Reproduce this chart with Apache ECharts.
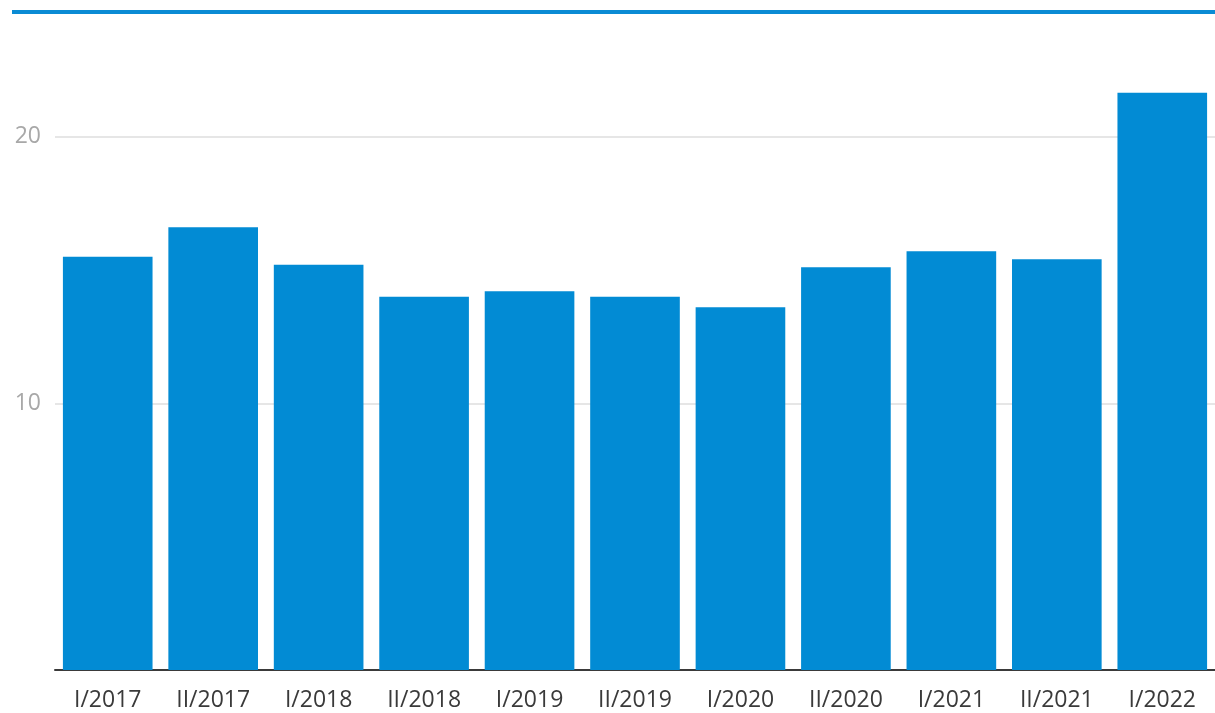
<!DOCTYPE html>
<html><head><meta charset="utf-8">
<script src="https://cdn.jsdelivr.net/npm/echarts@6/dist/echarts.min.js"></script>
<style>html,body{margin:0;padding:0;background:#fff}#c{width:1215px;height:713px}</style>
</head><body><div id="c"></div>
<script>
const categories = ['I/2017','II/2017','I/2018','II/2018','I/2019','II/2019','I/2020','II/2020','I/2021','II/2021','I/2022'];
const values = [15.5, 16.6, 15.2, 14.0, 14.2, 14.0, 13.6, 15.1, 15.7, 15.4, 21.65];
const yTicks = [10, 20];

const chart = echarts.init(document.getElementById('c'), null, {renderer:'canvas'});
chart.setOption({
  animation: false,
  graphic: [{type:'rect', shape:{x:12, y:10, width:1210, height:4}, style:{fill:'#0a8bd4'}}],
  grid: {left:55, top:30, width:1164, bottom:43, containLabel:false},
  xAxis: {
    type:'category', data:categories,
    axisLine:{show:true, lineStyle:{color:'#3a3a3a', width:2}},
    axisTick:{show:false},
    axisLabel:{color:'#3a3a3a', fontSize:23, fontFamily:'Open Sans', margin:19}
  },
  yAxis: {
    type:'value', min:0, max:24, interval:10,
    axisLine:{show:false}, axisTick:{show:false},
    axisLabel:{color:'#a8a8a8', fontSize:23, fontFamily:'Open Sans', margin:14,
      formatter: v => yTicks.includes(v) ? String(v) : ''},
    splitLine:{show:false}
  },
  series: [
    {
      type:'line', data:[], z:1, silent:true,
      markLine:{
        z:0, silent:true, symbol:['none','none'], label:{show:false},
        lineStyle:{color:'#e6e6e6', width:2, type:'solid'},
        data: yTicks.map(v => ({yAxis:v}))
      }
    },
    {
      type:'bar', data:values, barCategoryGap:'15%', z:2,
      itemStyle:{color:'#028bd4'}
    }
  ]
});
</script></body></html>
